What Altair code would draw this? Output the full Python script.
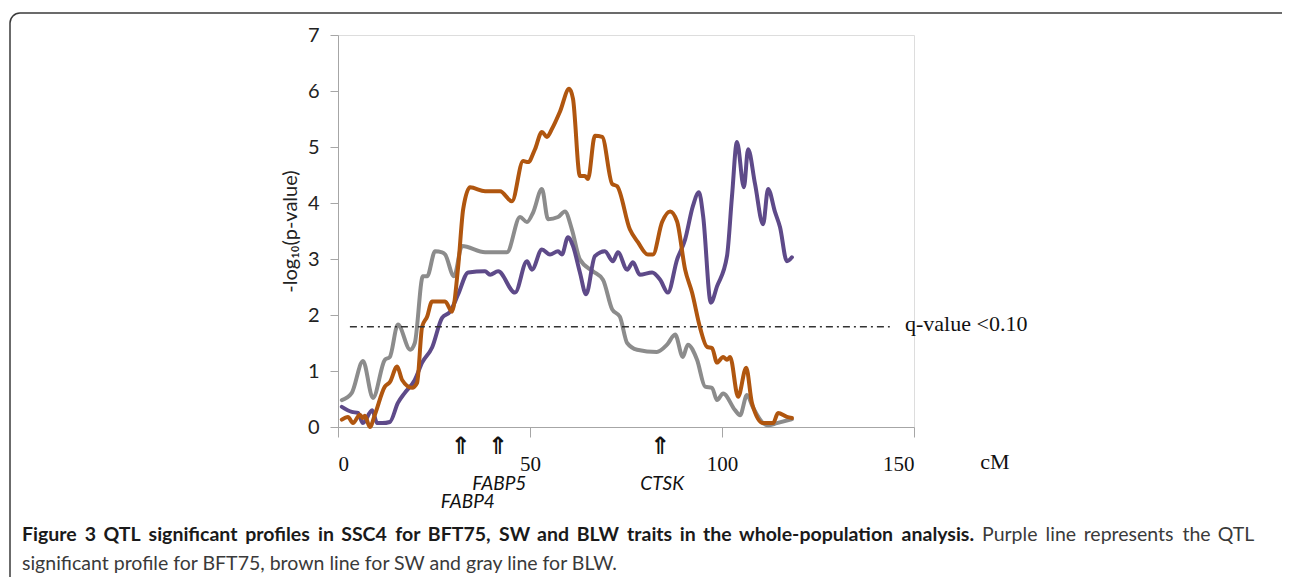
import altair as alt
import pandas as pd

# ---- data ----
series_names = ["BFT75", "SW", "BLW"]
series_colors = ["#5e4a89", "#b0560f", "#8c8c8c"]

cm_blw = [1.0, 3.6, 6.5, 9.1, 12.2, 13.5, 15.6, 18.8, 20.0, 22.1, 23.2, 25.3, 27.1, 27.9,
          30.2, 32.3, 38.3, 44.0, 47.4, 49.2, 50.8, 53.1, 54.7, 57.3, 59.1, 60.9, 63.0,
          66.4, 69.0, 71.4, 73.4, 75.3, 77.9, 83.0, 85.7, 87.8, 89.8, 91.1, 93.5, 95.6,
          97.4, 98.7, 100.3, 103.4, 104.7, 106.5, 108.0, 110.7, 112.0, 114.3, 118.2]
v_blw = [0.48, 0.61, 1.18, 0.52, 1.2, 1.25, 1.83, 1.38, 1.5, 2.69, 2.69, 3.14, 3.12, 3.08,
         2.69, 3.23, 3.12, 3.12, 3.75, 3.66, 3.83, 4.25, 3.71, 3.75, 3.85, 3.53, 2.99,
         2.78, 2.63, 2.1, 1.97, 1.5, 1.38, 1.34, 1.47, 1.65, 1.25, 1.47, 1.2, 0.72,
         0.7, 0.48, 0.6, 0.3, 0.21, 0.57, 0.36, 0.07, 0.03, 0.07, 0.14]

cm_sw = [1.0, 2.6, 3.9, 5.7, 6.5, 7.0, 8.3, 9.6, 12.2, 13.5, 15.4, 16.7, 19.3, 20.6, 21.9,
         23.2, 24.5, 27.9, 29.7, 31.3, 32.6, 34.4, 38.3, 42.2, 45.3, 48.2, 49.5, 51.3,
         53.1, 54.4, 55.7, 57.8, 60.2, 61.2, 63.0, 64.3, 65.1, 66.9, 68.8, 71.4, 72.7,
         76.0, 78.1, 80.7, 82.0, 84.4, 86.5, 88.3, 90.4, 92.2, 94.3, 96.1, 97.4, 98.7,
         100.3, 101.3, 102.1, 104.2, 106.3, 107.8, 110.7, 113.3, 114.6, 116.9, 118.2]
v_sw = [0.13, 0.18, 0.07, 0.22, 0.16, 0.2, 0.0, 0.22, 0.72, 0.8, 1.08, 0.84, 0.7, 0.79, 1.79,
        1.97, 2.24, 2.24, 2.06, 2.87, 3.89, 4.28, 4.21, 4.21, 4.03, 4.75, 4.73, 4.96,
        5.27, 5.18, 5.32, 5.63, 6.04, 5.86, 4.48, 4.48, 4.43, 5.2, 5.18, 4.34, 4.3,
        3.53, 3.3, 3.08, 3.08, 3.66, 3.85, 3.67, 2.81, 2.4, 1.77, 1.43, 1.41, 1.15,
        1.25, 1.2, 1.25, 0.54, 1.06, 0.43, 0.07, 0.07, 0.25, 0.18, 0.16]

cm_bft = [1.0, 3.6, 5.2, 6.5, 8.9, 10.2, 11.5, 13.5, 15.6, 17.4, 20.0, 21.9, 24.5, 27.1,
          29.2, 31.3, 33.9, 38.3, 39.6, 41.7, 46.1, 49.2, 50.5, 53.1, 55.2, 57.3, 58.3,
          59.9, 61.2, 63.0, 64.6, 66.9, 69.5, 71.6, 72.9, 75.3, 76.8, 78.6, 81.8, 83.9,
          85.9, 88.3, 90.4, 92.4, 94.0, 95.1, 97.1, 98.7, 101.3, 102.6, 103.9, 105.7,
          106.8, 108.6, 110.7, 112.0, 113.8, 115.1, 116.9, 118.2]
v_bft = [0.36, 0.27, 0.25, 0.07, 0.3, 0.07, 0.07, 0.09, 0.43, 0.61, 0.84, 1.15, 1.42, 1.95,
         2.06, 2.37, 2.76, 2.78, 2.72, 2.78, 2.4, 2.96, 2.81, 3.17, 3.08, 3.14, 3.08,
         3.39, 3.23, 2.76, 2.37, 3.05, 3.14, 2.96, 3.12, 2.81, 2.94, 2.72, 2.76, 2.63,
         2.4, 2.99, 3.35, 3.94, 4.19, 3.76, 2.22, 2.51, 3.05, 4.12, 5.09, 4.28,
         4.96, 4.34, 3.62, 4.25, 3.84, 3.57, 2.96, 3.03]

threshold_value = 1.79
threshold_start = 3.1
threshold_end = 143.7
threshold_label = "q-value <0.10"

gene_names = ["FABP4", "FABP5", "CTSK"]
gene_cm = [32.0, 41.7, 83.9]
gene_label_cm = [33.8, 42.0, 84.4]

x_ticks = [0, 50, 100, 150]
y_ticks = [0, 1, 2, 3, 4, 5, 6, 7]

caption_bold = "Figure 3 QTL significant profiles in SSC4 for BFT75, SW and BLW traits in the whole-population analysis."
caption_rest1 = "Purple line represents the QTL"
caption_rest2 = "significant profile for BFT75, brown line for SW and gray line for BLW."

# ---- caption layout (justified first line, as in the reference) ----
CAP_FS = 19.5
CHAR_W = {' ': 0.19, 'a': 0.50, 'b': 0.55, 'c': 0.46, 'd': 0.55, 'e': 0.52, 'f': 0.33, 'g': 0.50,
          'h': 0.55, 'i': 0.24, 'j': 0.24, 'k': 0.50, 'l': 0.24, 'm': 0.83, 'n': 0.55, 'o': 0.55,
          'p': 0.55, 'q': 0.55, 'r': 0.37, 's': 0.42, 't': 0.35, 'u': 0.55, 'v': 0.50, 'w': 0.76,
          'x': 0.49, 'y': 0.50, 'z': 0.45, 'A': 0.68, 'B': 0.64, 'C': 0.66, 'D': 0.73, 'E': 0.56,
          'F': 0.54, 'G': 0.71, 'H': 0.74, 'I': 0.28, 'K': 0.65, 'L': 0.50, 'M': 0.89, 'N': 0.74,
          'O': 0.78, 'P': 0.60, 'Q': 0.78, 'R': 0.62, 'S': 0.53, 'T': 0.58, 'U': 0.71, 'V': 0.68,
          'W': 0.98, ',': 0.22, '.': 0.22, '-': 0.36}


def tw(s):
    return sum(CHAR_W.get(c, 0.58) for c in s)


# calibration from a measured render (Lato 18px: bold 833px, regular 240px)
k_bold = 833 / (tw(caption_bold) * 18)
k_reg = 240 / (tw(caption_rest1) * 18)

LINE_LEFT, LINE_RIGHT = 22, 1255
words = [(w, True) for w in caption_bold.split(" ")] + [(w, False) for w in caption_rest1.split(" ")]
wwidths = [tw(w) * CAP_FS * (k_bold if b else k_reg) for w, b in words]
gap = (LINE_RIGHT - LINE_LEFT - sum(wwidths)) / (len(words) - 1)
xs, cur = [], LINE_LEFT
for wd in wwidths:
    xs.append(cur)
    cur += wd + gap
df_words = pd.DataFrame({"word": [w for w, _ in words], "bold": [b for _, b in words],
                         "px": [x - 338 for x in xs]})

# ---- build tables ----
df_bft = pd.DataFrame({"cM": cm_bft, "v": v_bft, "trait": "BFT75"})
df_sw = pd.DataFrame({"cM": cm_sw, "v": v_sw, "trait": "SW"})
df_blw = pd.DataFrame({"cM": cm_blw, "v": v_blw, "trait": "BLW"})
df_thr = pd.DataFrame({"x1": [threshold_start], "x2": [threshold_end], "y": [threshold_value]})
df_gene = pd.DataFrame({"name": gene_names, "cM": gene_cm, "lab": gene_label_cm, "arrow": ["⇑"] * 3})
one = pd.DataFrame({"k": [0]})

W, H = 576, 392
AXIS_GRAY = "#a6a6a6"

xscale = alt.Scale(domain=[0, 150], nice=False)
yscale = alt.Scale(domain=[0, 7], nice=False)
color = alt.Color("trait:N", scale=alt.Scale(domain=series_names, range=series_colors), legend=None)

x_axis = alt.Axis(values=x_ticks, title=None, grid=False, domainColor=AXIS_GRAY, tickColor=AXIS_GRAY,
                  tickSize=10, labelFont="Liberation Serif", labelFontSize=21, labelColor="#111",
                  labelPadding=16)
y_axis = alt.Axis(values=y_ticks, format="d", title="-log₁₀(p-value)", grid=False,
                  domainColor=AXIS_GRAY, tickColor=AXIS_GRAY, tickSize=8, labelFont="Lato",
                  labelFontSize=20, labelColor="#222", labelPadding=11, titleFont="Lato",
                  titleFontSize=20, titleFontWeight="normal", titleColor="#222", titleX=-48,
                  titleY=196, titleBaseline="middle", titleAngle=270)


def line_layer(df):
    return alt.Chart(df).mark_line(strokeWidth=4, interpolate="monotone", strokeCap="round",
                                   strokeJoin="round").encode(
        x=alt.X("cM:Q", scale=xscale, axis=x_axis),
        y=alt.Y("v:Q", scale=yscale, axis=y_axis),
        color=color,
    )


thr = alt.Chart(df_thr).mark_rule(color="#333", strokeWidth=1.5, strokeDash=[7, 4, 2, 4]).encode(
    x=alt.X("x1:Q", scale=xscale), x2="x2:Q", y=alt.Y("y:Q", scale=yscale))

thr_text = alt.Chart(one).mark_text(text=threshold_label, font="Liberation Serif", fontSize=22,
                                    align="left", baseline="middle", color="#111").encode(
    x=alt.value(567), y=alt.value(289))

arrows = alt.Chart(df_gene).mark_text(font="DejaVu Sans", fontSize=24, fontWeight="bold",
                                      baseline="middle", color="#111111").encode(
    x=alt.X("cM:Q", scale=xscale), y=alt.value(412), text="arrow:N")

gene_top = alt.Chart(df_gene).transform_filter(alt.datum.name != "FABP4").mark_text(
    font="Lato", fontSize=19, fontStyle="italic", baseline="middle", color="#111").encode(
    x=alt.X("lab:Q", scale=xscale), y=alt.value(449), text="name:N")
gene_low = alt.Chart(df_gene).transform_filter(alt.datum.name == "FABP4").mark_text(
    font="Lato", fontSize=19, fontStyle="italic", baseline="middle", color="#111").encode(
    x=alt.X("lab:Q", scale=xscale), y=alt.value(467), text="name:N")

cm_text = alt.Chart(one).mark_text(text="cM", font="Liberation Serif", fontSize=22, align="center",
                                   baseline="middle", color="#111").encode(
    x=alt.value(657), y=alt.value(427))

# frame: top and left edges with a rounded top-left corner (other edges lie off the picture)
BORDER = "#3a3a3a"
frame_top = alt.Chart(one).mark_rule(color=BORDER, strokeWidth=1.5).encode(
    x=alt.value(-318), x2=alt.value(1000), y=alt.value(-22))
frame_left = alt.Chart(one).mark_rule(color=BORDER, strokeWidth=1.5).encode(
    x=alt.value(-328), y=alt.value(-12), y2=alt.value(600))
frame_corner = alt.Chart(one).mark_arc(radius=10.75, radius2=9.25, theta=4.7124, theta2=6.2832,
                                       color=BORDER).encode(
    x=alt.value(-318), y=alt.value(-12))

cap_bold = alt.Chart(df_words).transform_filter(alt.datum.bold).mark_text(
    font="Lato", fontSize=CAP_FS, fontWeight="bold", align="left", baseline="middle",
    color="#1a1a1a").encode(x=alt.X("px:Q", scale=None), y=alt.value(500), text="word:N")
cap_reg = alt.Chart(df_words).transform_filter(~alt.datum.bold).mark_text(
    font="Lato", fontSize=CAP_FS, align="left", baseline="middle",
    color="#3a3a3a").encode(x=alt.X("px:Q", scale=None), y=alt.value(500), text="word:N")
cap2 = alt.Chart(one).mark_text(text=caption_rest2, font="Lato", fontSize=CAP_FS, align="left",
                                baseline="middle", color="#3a3a3a").encode(
    x=alt.value(LINE_LEFT - 338), y=alt.value(529))

chart = alt.layer(
    frame_top, frame_left, frame_corner,
    line_layer(df_blw), line_layer(df_bft), line_layer(df_sw), thr, thr_text,
    arrows, gene_top, gene_low, cm_text, cap_bold, cap_reg, cap2
).properties(
    width=W, height=H,
    autosize=alt.AutoSizeParams(type="none"),
    padding={"left": 330, "top": 27, "right": 368, "bottom": 150},
).configure_view(stroke="transparent").configure(background="white")

chart.save("out.html", embed_options={"renderer": "svg", "actions": False})
